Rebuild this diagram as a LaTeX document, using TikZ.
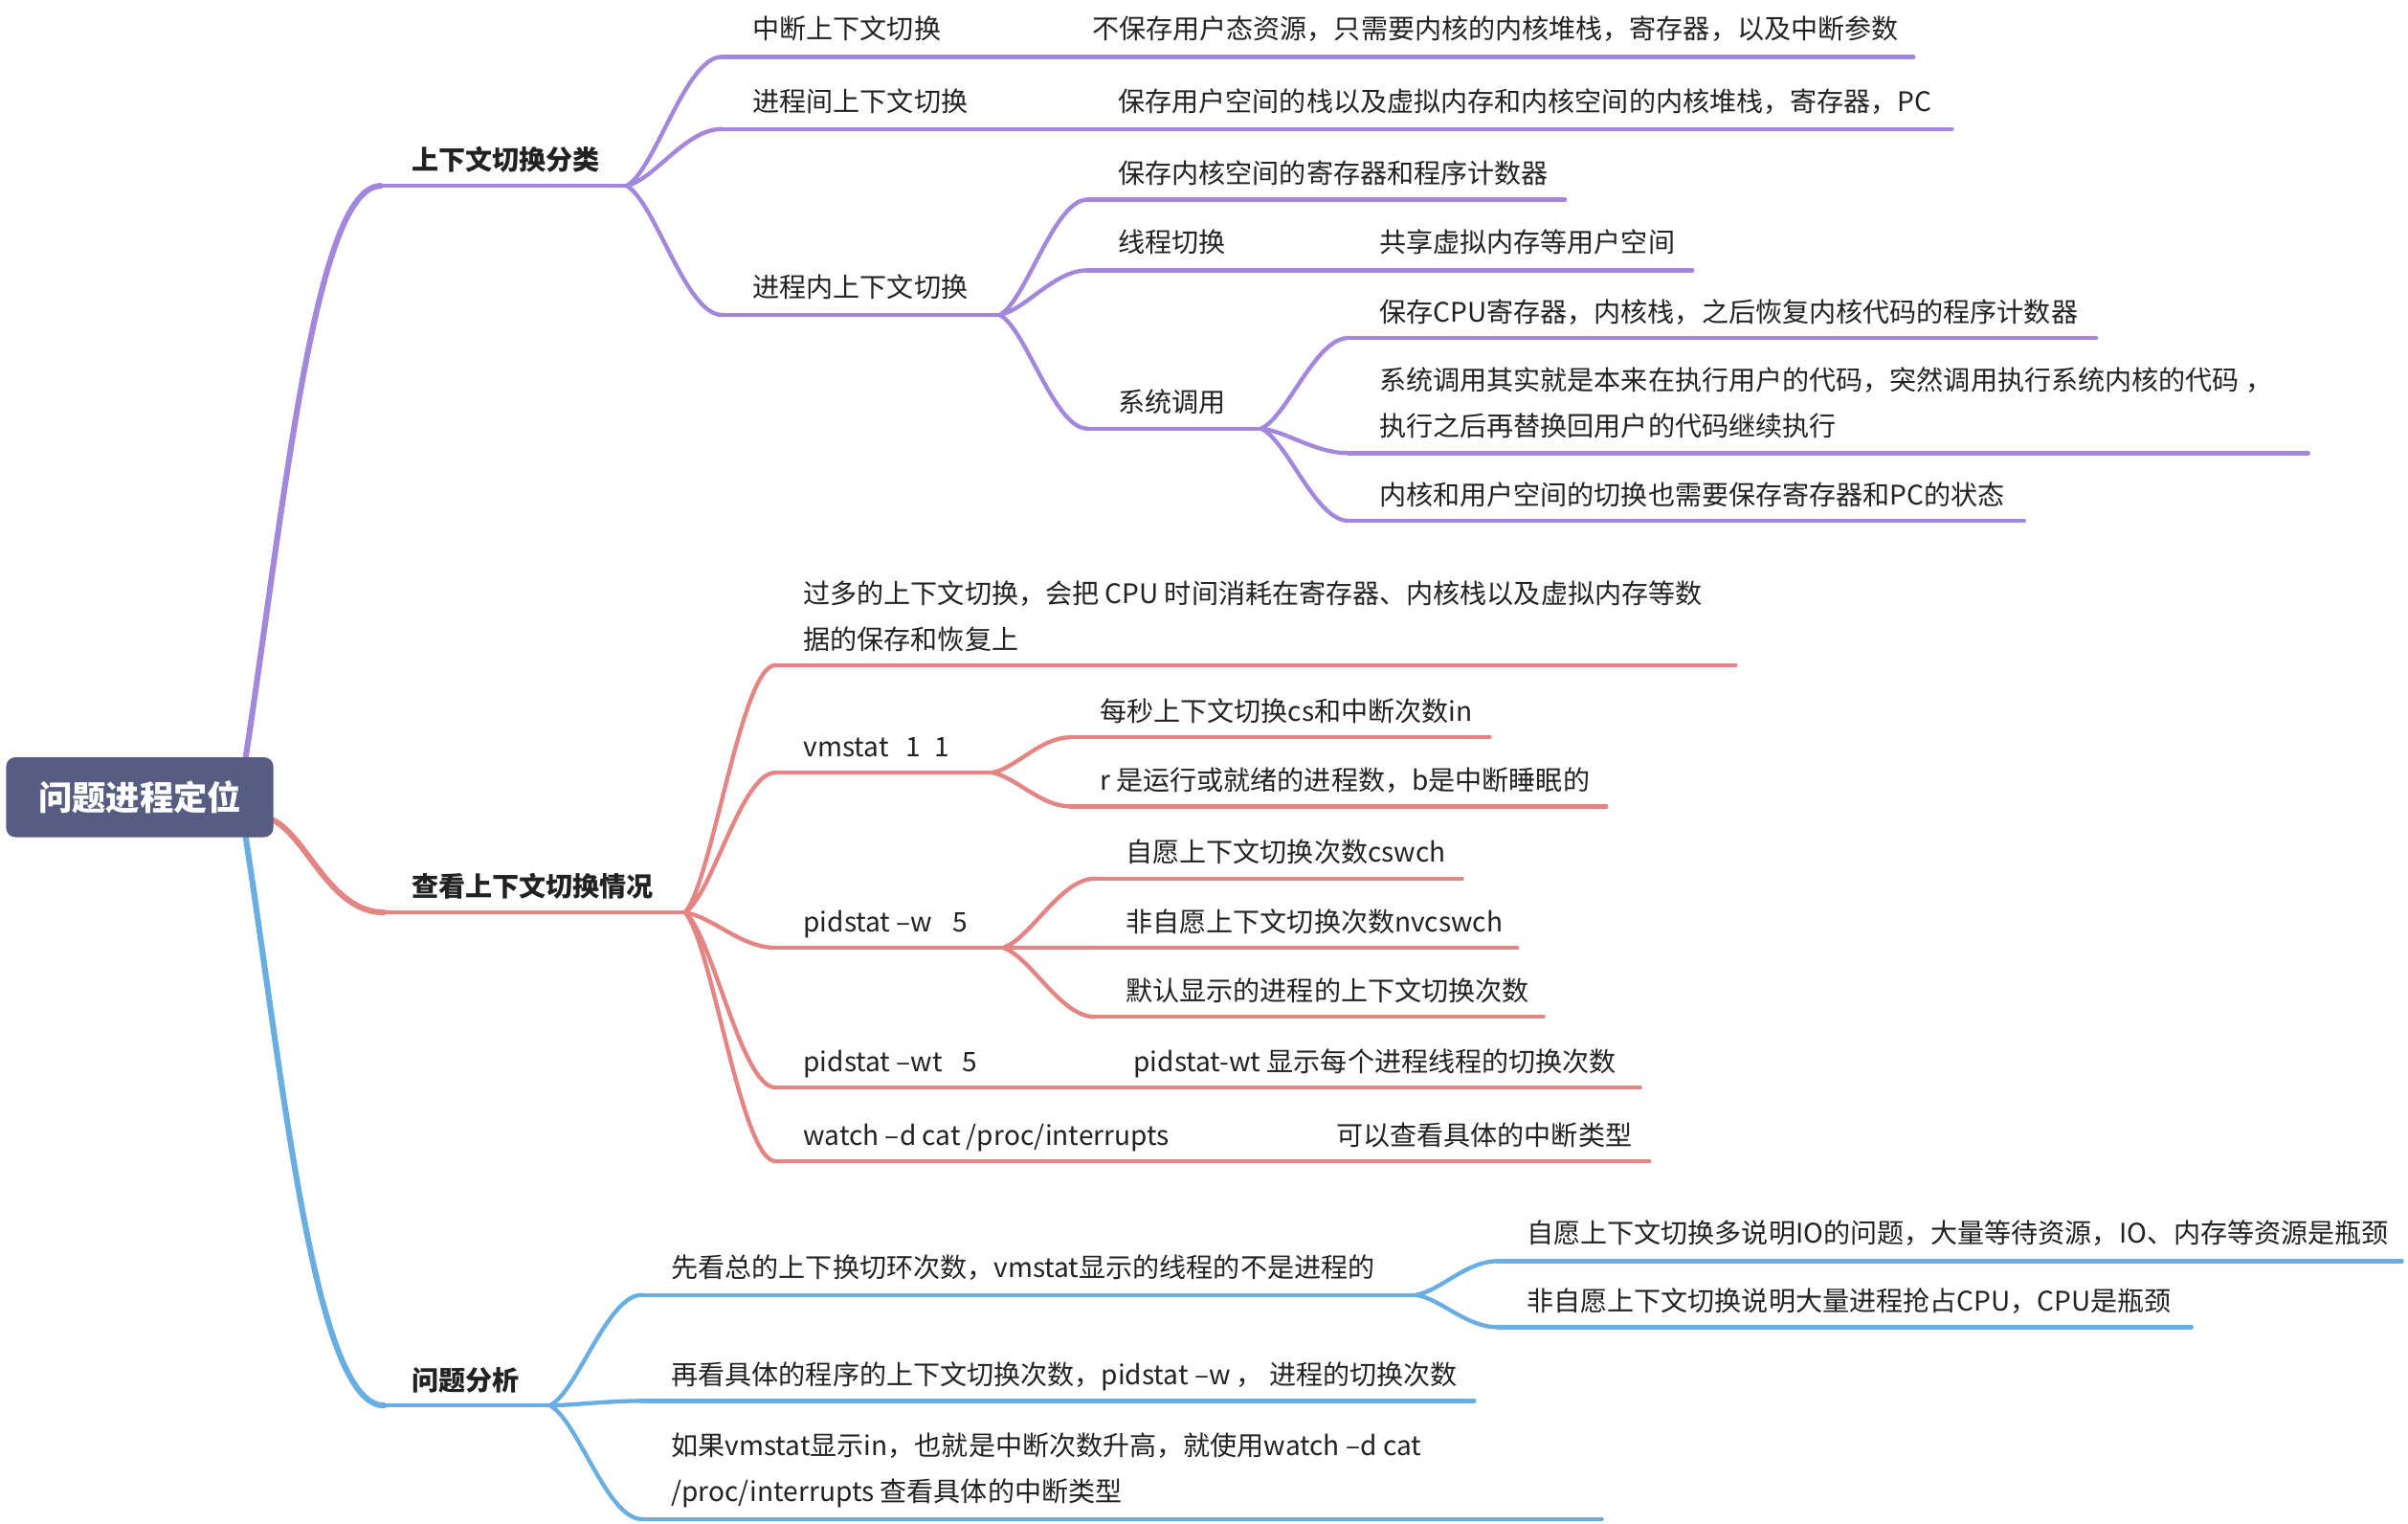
\documentclass[tikz,border=0pt]{standalone}
\usepackage{fontspec}
\setmainfont{Noto Sans CJK SC}
\usetikzlibrary{calc}
\definecolor{cpu}{HTML}{A287DD}
\definecolor{cre}{HTML}{E48483}
\definecolor{cbl}{HTML}{69AEE3}
\definecolor{croot}{HTML}{575C82}
\definecolor{ctxt}{HTML}{222222}
\begin{document}
\begin{tikzpicture}[x=1pt,y=-1pt,
  t1/.style={anchor=base west, inner sep=0pt, text=ctxt, font=\fontsize{17.5}{30}\selectfont\bfseries},
  t2/.style={anchor=base west, inner sep=0pt, text=ctxt, font=\fontsize{17.5}{30}\selectfont},
  t2m/.style={anchor=west, inner sep=0pt, text=ctxt, align=left, font=\fontsize{17.5}{30}\selectfont},
  ln/.style={line width=2.7pt, line cap=round},
  lnA/.style={line width=3.8pt, line cap=round},
  conn/.style={to path={let \p1=(\tikztostart), \p2=(\tikztotarget) in .. controls ({\x1+0.3*(\x2-\x1)},{\y1+0.12*(\y2-\y1)}) and ({\x1+0.62*(\x2-\x1)},{\y2}) .. (\tikztotarget)}},
]
\fill[white] (0,0) rectangle (1568,992);
\useasboundingbox (0,0) rectangle (1568,992);

% root anchor points
\coordinate (rT) at (160,493);
\coordinate (rR) at (178,534);
\coordinate (rB) at (160,545);

% level 1
\coordinate (u1s) at (248,121); \coordinate (u1e) at (408,121);
\coordinate (u2s) at (250,594); \coordinate (u2e) at (446,594);
\coordinate (u3s) at (250,915); \coordinate (u3e) at (358,915);
\node[t1] (n1) at (268,110.5) {上下文切换分类};
\node[t1] (n2) at (268,583.5) {查看上下文切换情况};
\node[t1] (n3) at (268,905.5) {问题分析};

% purple group
\node[t2] (a1) at (490,25.5) {中断上下文切换};
\node[t2] (a1a) at (711,25.5) {不保存用户态资源，只需要内核的内核堆栈，寄存器，以及中断参数};
\coordinate (a1s) at (470,37); \coordinate (a1e) at (690,37); \coordinate (a1ae) at (1246,37);
\node[t2] (a2) at (490,72.5) {进程间上下文切换};
\node[t2] (a2a) at (728,72.5) {保存用户空间的栈以及虚拟内存和内核空间的内核堆栈，寄存器，PC};
\coordinate (a2s) at (470,84); \coordinate (a2e) at (708,84); \coordinate (a2ae) at (1271,84);
\node[t2] (a3) at (490,193.5) {进程内上下文切换};
\coordinate (a3s) at (470,205); \coordinate (a3e) at (651,205);
\node[t2] (b1) at (728,119.5) {保存内核空间的寄存器和程序计数器};
\coordinate (b1s) at (708,130); \coordinate (b1e) at (1019,130);
\node[t2] (b2) at (728,164.5) {线程切换};
\coordinate (b2s) at (708,176); \coordinate (b2e) at (880,176);
\node[t2] (b2a) at (898,164.5) {共享虚拟内存等用户空间};
\coordinate (b2ae) at (1102,176);
\node[t2] (b3) at (728,268.5) {系统调用};
\coordinate (b3s) at (708,279); \coordinate (b3e) at (821,279);
\node[t2] (s1) at (898,209.5) {保存CPU寄存器，内核栈，之后恢复内核代码的程序计数器};
\coordinate (s1s) at (878,220); \coordinate (s1e) at (1365,220);
\node[t2m] (s2) at (898,262) {系统调用其实就是本来在执行用户的代码，突然调用执行系统内核的代码 ，\\执行之后再替换回用户的代码继续执行};
\coordinate (s2s) at (878,295); \coordinate (s2e) at (1503,295);
\node[t2] (s3) at (898,328.5) {内核和用户空间的切换也需要保存寄存器和PC的状态};
\coordinate (s3s) at (878,339); \coordinate (s3e) at (1318,339);

% red group
\node[t2m] (r1) at (523,401) {过多的上下文切换，会把 CPU 时间消耗在寄存器、内核栈以及虚拟内存等数\\据的保存和恢复上};
\coordinate (r1s) at (505,433); \coordinate (r1e) at (1130,433);
\node[t2] (r2) at (523,492.5) {vmstat\hspace{11pt}1\hspace{9pt}1};
\coordinate (r2s) at (505,503); \coordinate (r2e) at (646,503);
\node[t2] (r2a) at (716,469.5) {每秒上下文切换cs和中断次数in};
\coordinate (r2as) at (697,480); \coordinate (r2ae) at (970,480);
\node[t2] (r2b) at (716,514.5) {r 是运行或就绪的进程数，b是中断睡眠的};
\coordinate (r2bs) at (697,525); \coordinate (r2be) at (1046,525);
\node[t2] (r3) at (523,606.5) {pidstat –w\hspace{13pt}5};
\coordinate (r3s) at (505,617); \coordinate (r3e) at (653,617);
\node[t2] (r3a) at (733,561.5) {自愿上下文切换次数cswch};
\coordinate (r3as) at (713,572); \coordinate (r3ae) at (952,572);
\node[t2] (r3b) at (733,606.5) {非自愿上下文切换次数nvcswch};
\coordinate (r3bs) at (713,617); \coordinate (r3be) at (988,617);
\node[t2] (r3c) at (733,651.5) {默认显示的进程的上下文切换次数};
\coordinate (r3cs) at (713,662); \coordinate (r3ce) at (1005,662);
\node[t2] (r4) at (523,697.5) {pidstat –wt\hspace{13pt}5};
\coordinate (r4s) at (505,708); \coordinate (r4e) at (718,708);
\node[t2] (r4a) at (738,697.5) {pidstat-wt 显示每个进程线程的切换次数};
\coordinate (r4ae) at (1068,708);
\node[t2] (r5) at (523,745.5) {watch –d cat /proc/interrupts};
\coordinate (r5s) at (505,756); \coordinate (r5e) at (850,756);
\node[t2] (r5a) at (870,745.5) {可以查看具体的中断类型};
\coordinate (r5ae) at (1074,756);

% blue group
\node[t2] (q1) at (437,831.5) {先看总的上下换切环次数，vmstat显示的线程的不是进程的};
\coordinate (q1s) at (418,843); \coordinate (q1e) at (922,843);
\node[t2] (q1a) at (994,809.5) {自愿上下文切换多说明IO的问题，大量等待资源，IO、内存等资源是瓶颈};
\coordinate (q1as) at (975,821); \coordinate (q1ae) at (1564,821);
\node[t2] (q1b) at (994,853.5) {非自愿上下文切换说明大量进程抢占CPU，CPU是瓶颈};
\coordinate (q1bs) at (975,864); \coordinate (q1be) at (1427,864);
\node[t2] (q2) at (437,901.5) {再看具体的程序的上下文切换次数，pidstat –w ， 进程的切换次数};
\coordinate (q2s) at (418,912); \coordinate (q2e) at (960,912);
\node[t2m] (q3) at (437,957) {如果vmstat显示in，也就是中断次数升高，就使用watch –d cat\\/proc/interrupts 查看具体的中断类型};
\coordinate (q3s) at (418,989); \coordinate (q3e) at (1043,989);

% purple connectors
\draw[lnA, cpu] (rT) .. controls (185,330) and (205,121) .. (u1s);
\draw[ln, cpu] (u1s) -- (u1e);
\draw[ln, cpu] (u1e) to[conn] (a1s) (u1e) to[conn] (a2s) (u1e) to[conn] (a3s);
\draw[ln, cpu] (a1s) -- (a1e) -- (a1ae);
\draw[ln, cpu] (a2s) -- (a2e) -- (a2ae);
\draw[ln, cpu] (a3s) -- (a3e);
\draw[ln, cpu] (a3e) to[conn] (b1s) (a3e) to[conn] (b2s) (a3e) to[conn] (b3s);
\draw[ln, cpu] (b1s) -- (b1e);
\draw[ln, cpu] (b2s) -- (b2e) -- (b2ae);
\draw[ln, cpu] (b3s) -- (b3e);
\draw[ln, cpu] (b3e) to[conn] (s1s) (b3e) to[conn] (s2s) (b3e) to[conn] (s3s);
\draw[ln, cpu] (s1s) -- (s1e);
\draw[ln, cpu] (s2s) -- (s2e);
\draw[ln, cpu] (s3s) -- (s3e);

% red connectors
\draw[lnA, cre] (rR) .. controls (200,545) and (215,594) .. (u2s);
\draw[ln, cre] (u2s) -- (u2e);
\draw[ln, cre] (u2e) to[conn] (r1s) (u2e) to[conn] (r2s) (u2e) to[conn] (r3s) (u2e) to[conn] (r4s) (u2e) to[conn] (r5s);
\draw[ln, cre] (r1s) -- (r1e);
\draw[ln, cre] (r2s) -- (r2e);
\draw[ln, cre] (r2e) to[conn] (r2as) (r2e) to[conn] (r2bs);
\draw[ln, cre] (r2as) -- (r2ae);
\draw[ln, cre] (r2bs) -- (r2be);
\draw[ln, cre] (r3s) -- (r3e);
\draw[ln, cre] (r3e) to[conn] (r3as) (r3e) to[conn] (r3bs) (r3e) to[conn] (r3cs);
\draw[ln, cre] (r3as) -- (r3ae);
\draw[ln, cre] (r3bs) -- (r3be);
\draw[ln, cre] (r3cs) -- (r3ce);
\draw[ln, cre] (r4s) -- (r4e) -- (r4ae);
\draw[ln, cre] (r5s) -- (r5e) -- (r5ae);

% blue connectors
\draw[lnA, cbl] (rB) .. controls (185,708) and (205,915) .. (u3s);
\draw[ln, cbl] (u3s) -- (u3e);
\draw[ln, cbl] (u3e) to[conn] (q1s) (u3e) to[conn] (q2s) (u3e) to[conn] (q3s);
\draw[ln, cbl] (q1s) -- (q1e);
\draw[ln, cbl] (q1e) to[conn] (q1as) (q1e) to[conn] (q1bs);
\draw[ln, cbl] (q1as) -- (q1ae);
\draw[ln, cbl] (q1bs) -- (q1be);
\draw[ln, cbl] (q2s) -- (q2e);
\draw[ln, cbl] (q3s) -- (q3e);

% root
\node[fill=croot, rounded corners=6pt, minimum width=174pt, minimum height=52pt, inner sep=0pt,
      text=white, font=\fontsize{22}{26}\selectfont\bfseries] (root) at (91,519) {问题进程定位};
\end{tikzpicture}
\end{document}
